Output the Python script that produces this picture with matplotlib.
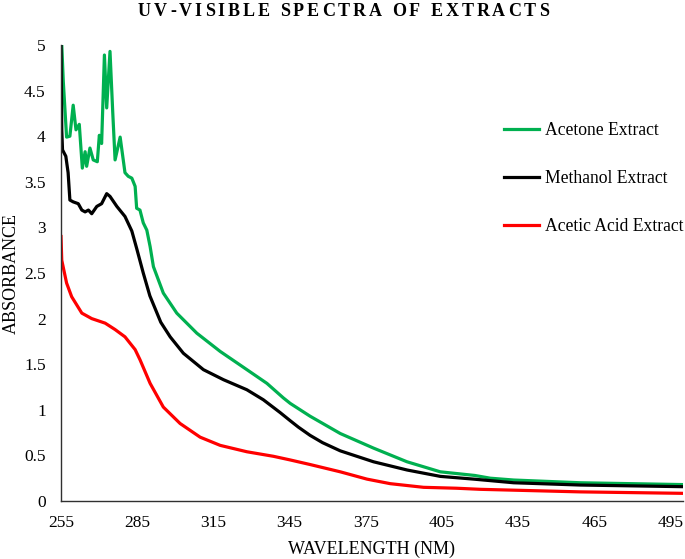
import matplotlib
matplotlib.use("Agg")
import matplotlib.pyplot as plt
from matplotlib.font_manager import FontProperties

plt.rcParams['font.family'] = ['Liberation Serif', 'DejaVu Serif']

acetone_wl = [255, 255.9, 257.2, 258.5, 259.8, 260.9, 262.2, 263.4, 264.5, 265.1, 266.4, 267.7,
              269.3, 270.1, 271.0, 272.1, 273.0, 274.3, 275.4, 276.3, 278.3, 280.2, 281.5, 282.9,
              284.2, 284.8, 286.1, 287.4, 288.8, 290.1, 291.4, 295.3, 300.6, 308.5, 317.7, 325.6,
              336.1, 342.6, 345.3, 349.2, 353.1, 365.0, 378.1, 391.3, 404.4, 418.0, 424.1, 433.3,
              459.6, 500]
acetone_abs = [5.2, 4.6, 3.99, 4.0, 4.34, 4.07, 4.13, 3.65, 3.83, 3.67, 3.87, 3.74,
               3.72, 4.01, 3.92, 4.89, 4.31, 4.93, 4.25, 3.74, 3.99, 3.6, 3.56, 3.54,
               3.45, 3.21, 3.19, 3.05, 2.97, 2.79, 2.57, 2.28, 2.06, 1.84, 1.64, 1.49,
               1.29, 1.13, 1.07, 1.0, 0.93, 0.74, 0.58, 0.43, 0.32, 0.28, 0.25, 0.23,
               0.20, 0.18]

methanol_wl = [255, 255.3, 255.6, 256.9, 257.8, 258.5, 259.8, 261.8, 263.2, 264.5, 265.8, 267.1,
               269.1, 271.0, 273.0, 274.3, 277.0, 280.2, 282.9, 284.8, 287.4, 290.0, 294.3, 298.0,
               303.2, 311.1, 319.0, 328.2, 334.7, 341.3, 345.3, 348.5, 353.1, 358.0, 365.0, 378.1,
               391.3, 404.4, 417.5, 433.3, 459.6, 500]
methanol_abs = [5.0, 4.07, 3.85, 3.78, 3.60, 3.30, 3.28, 3.26, 3.19, 3.17, 3.19, 3.15,
                3.23, 3.26, 3.37, 3.34, 3.23, 3.12, 2.96, 2.77, 2.50, 2.25, 1.96, 1.80,
                1.62, 1.44, 1.33, 1.22, 1.11, 0.97, 0.88, 0.81, 0.72, 0.64, 0.55, 0.43,
                0.34, 0.27, 0.24, 0.20, 0.175, 0.157]

acetic_wl = [255, 255.3, 257.2, 259.2, 263.2, 267.1, 272.4, 276.3, 280.2, 284.2, 286.1, 290.1,
             295.3, 301.9, 309.8, 317.7, 328.2, 338.7, 345.3, 353.1, 365.0, 375.5, 384.7, 397.8,
             410.8, 420.2, 459.6, 500]
acetic_abs = [2.9, 2.64, 2.39, 2.24, 2.06, 2.00, 1.95, 1.88, 1.80, 1.66, 1.55, 1.29,
              1.03, 0.85, 0.70, 0.61, 0.54, 0.49, 0.45, 0.40, 0.32, 0.24, 0.19, 0.15,
              0.14, 0.128, 0.10, 0.084]

x_ticks = [255, 285, 315, 345, 375, 405, 435, 465, 495]
y_ticks = [0, 0.5, 1, 1.5, 2, 2.5, 3, 3.5, 4, 4.5, 5]
y_tick_labels = ['0', '0.5', '1', '1.5', '2', '2.5', '3', '3.5', '4', '4.5', '5']
title_text = 'UV-VISIBLE SPECTRA OF EXTRACTS'

W, H = 685, 559
fig = plt.figure(figsize=(W/100, H/100), dpi=100)
ax = fig.add_axes([61/W, 58/H, (683-61)/W, (501-45)/H])

ax.plot(acetone_wl, acetone_abs, color='#00B050', lw=2.3, label='Acetone Extract')
ax.plot(methanol_wl, methanol_abs, color='black', lw=2.3, label='Methanol Extract')
ax.plot(acetic_wl, acetic_abs, color='#FF0000', lw=2.3, label='Acetic Acid Extract')

ax.set_xlim(255, 500)
ax.set_ylim(0, 5)
ax.set_xticks(x_ticks)
ax.set_yticks(y_ticks)
ax.set_yticklabels(y_tick_labels)
ax.tick_params(axis='both', length=0, labelsize=12.5)
ax.tick_params(axis='y', pad=11)
ax.tick_params(axis='x', pad=10)
for s in ['top', 'right']:
    ax.spines[s].set_visible(False)
for s in ['left', 'bottom']:
    ax.spines[s].set_color('#303030')
    ax.spines[s].set_linewidth(1.0)

ax.set_xlabel('WAVELENGTH (NM)', fontsize=13, labelpad=7)
ax.set_ylabel('ABSORBANCE', fontsize=13, labelpad=3)

# letter-spaced title
renderer = fig.canvas.get_renderer()
prop = FontProperties(family='Liberation Serif', weight='bold', size=13)
def _w(s):
    return renderer.get_text_width_height_descent(s, prop, ismath=False)[0]
widths = [(_w('a a') - _w('aa')) if c == ' ' else _w(c) for c in title_text]
target_left, target_right = 138, 549
spacing = (target_right - target_left - sum(widths)) / (len(title_text) - 1)
x = target_left
for c, w in zip(title_text, widths):
    if c != ' ':
        fig.text(x / W, 1 - 16.5 / H, c, ha='left', va='baseline', fontproperties=prop)
    x += w + spacing

leg = ax.legend(loc='upper left', bbox_to_anchor=(497/W, 1 - 115/H), bbox_transform=fig.transFigure,
                frameon=False, fontsize=12.7, labelspacing=1.75, handlelength=2.0, handletextpad=0.3,
                borderaxespad=0)

fig.savefig('out.png', dpi=100)
